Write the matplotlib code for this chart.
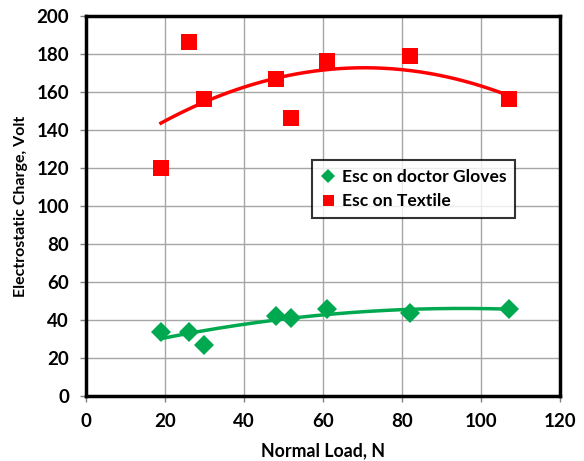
import numpy as np
import matplotlib
matplotlib.use('Agg')
import matplotlib.pyplot as plt

# values
load_n = [19, 26, 30, 48, 52, 61, 82, 107]
gloves_v = [34, 34, 27, 42, 41, 46, 44, 46]
textile_v = [120, 186, 156, 167, 146, 176, 179, 156]

x_ticks = [0, 20, 40, 60, 80, 100, 120]
y_ticks = [0, 20, 40, 60, 80, 100, 120, 140, 160, 180, 200]

GREEN = '#00a94f'
RED = '#ff0000'

plt.rcParams['font.family'] = ['Lato', 'DejaVu Sans']
plt.rcParams['font.weight'] = 'bold'

fig = plt.figure(figsize=(5.84, 4.61), dpi=100)
ax = fig.add_axes([0.147, 0.140, 0.812, 0.826])

# polynomial (order 2) trend lines, like the spreadsheet ones
xs = np.linspace(min(load_n), max(load_n), 200)
for yv, col in [(gloves_v, GREEN), (textile_v, RED)]:
    coef = np.polyfit(load_n, yv, 2)
    ax.plot(xs, np.polyval(coef, xs), color=col, lw=2.5, zorder=3)

ax.plot(load_n, gloves_v, 'D', color=GREEN, ms=10, mew=0,
        label='Esc on doctor Gloves', zorder=4)
ax.plot(load_n, textile_v, 's', color=RED, ms=11, mew=0,
        label='Esc on Textile', zorder=4)

ax.set_xlim(0, 120)
ax.set_ylim(0, 200)
ax.set_xticks(x_ticks)
ax.set_yticks(y_ticks)
ax.grid(True, color='#a6a6a6', lw=1)
ax.set_axisbelow(True)
for s in ax.spines.values():
    s.set_linewidth(2.5)
    s.set_color('black')
ax.tick_params(direction='out', length=4, width=1, color='#808080',
               labelsize=13.5, pad=8)
for lab in ax.get_xticklabels() + ax.get_yticklabels():
    lab.set_fontweight('bold')

ax.set_xlabel('Normal Load, N', fontsize=12.8, fontweight='bold', labelpad=9)
ax.set_ylabel('Electrostatic Charge, Volt', fontsize=11.5, fontweight='bold', labelpad=6)

leg = ax.legend(loc='upper left', bbox_to_anchor=(0.477, 0.62), frameon=True,
                fancybox=False, edgecolor='black', fontsize=12.6,
                markerscale=0.72, handlelength=0.8, handletextpad=0.4,
                borderpad=0.5, labelspacing=0.45, borderaxespad=0)
leg.get_frame().set_linewidth(1.5)
for t in leg.get_texts():
    t.set_fontweight('bold')

fig.savefig('out.png', dpi=100)
